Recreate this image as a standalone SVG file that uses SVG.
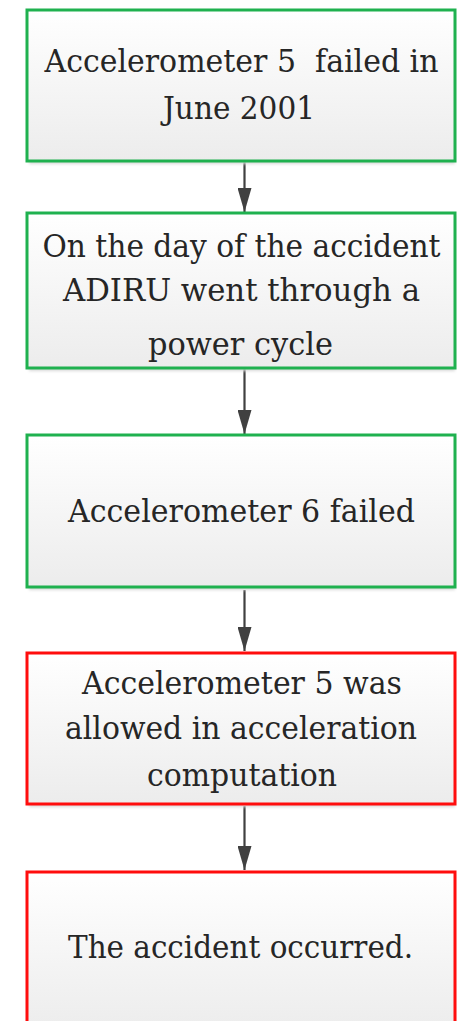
<svg xmlns="http://www.w3.org/2000/svg" width="457" height="1021" viewBox="0 0 457 1021">
<style>
.box{stroke-width:3;fill:url(#g)}
.green{stroke:#1fb14f}
.red{stroke:#ff0d0d}
.shadow{fill:#d8d8d8;filter:url(#blur)}
.t{font-family:'DejaVu Serif','Liberation Serif',serif;font-size:31px;fill:#262626;text-anchor:middle;white-space:pre}
.conn{stroke:#404040;stroke-width:2.2;fill:none;marker-end:url(#arrow)}
</style>
<defs>
<linearGradient id="g" x1="0" y1="0" x2="0" y2="1">
<stop offset="0" stop-color="#ffffff"/>
<stop offset="1" stop-color="#ececec"/>
</linearGradient>
<filter id="blur" x="-5%" y="-5%" width="110%" height="110%"><feGaussianBlur stdDeviation="1.5"/></filter>
<marker id="arrow" markerWidth="24" markerHeight="14" refX="24" refY="7" orient="auto" markerUnits="userSpaceOnUse" viewBox="0 0 24 14">
<path d="M0,0 L24,7 L0,14 Z" fill="#404040"/>
</marker>
</defs>
<rect width="457" height="1021" fill="#ffffff"/>
<g id="connectors">
<line class="conn" x1="244.5" y1="162" x2="244.5" y2="212"/>
<line class="conn" x1="244.5" y1="369" x2="244.5" y2="434"/>
<line class="conn" x1="244.5" y1="590" x2="244.5" y2="651"/>
<line class="conn" x1="244.5" y1="806" x2="244.5" y2="870"/>
</g>
<g id="node1">
<rect class="shadow" x="29" y="13" width="426" height="151"/>
<rect class="box green" x="27" y="10" width="428" height="151"/>
<text class="t" x="241.5" y="72" xml:space="preserve" textLength="394" lengthAdjust="spacingAndGlyphs">Accelerometer 5  failed in</text>
<text class="t" x="239" y="119" textLength="152" lengthAdjust="spacingAndGlyphs">June 2001</text>
</g>
<g id="node2">
<rect class="shadow" x="29" y="216" width="426" height="155"/>
<rect class="box green" x="27" y="213" width="428" height="155"/>
<text class="t" x="241.5" y="257" textLength="398" lengthAdjust="spacingAndGlyphs">On the day of the accident</text>
<text class="t" x="241.5" y="301" textLength="357" lengthAdjust="spacingAndGlyphs">ADIRU went through a</text>
<text class="t" x="240.5" y="355" textLength="185" lengthAdjust="spacingAndGlyphs">power cycle</text>
</g>
<g id="node3">
<rect class="shadow" x="29" y="438" width="426" height="152"/>
<rect class="box green" x="27" y="435" width="428" height="152"/>
<text class="t" x="241.5" y="522" textLength="347" lengthAdjust="spacingAndGlyphs">Accelerometer 6 failed</text>
</g>
<g id="node4">
<rect class="shadow" x="29" y="656" width="426" height="151"/>
<rect class="box red" x="27" y="653" width="428" height="151"/>
<text class="t" x="242" y="694" textLength="320" lengthAdjust="spacingAndGlyphs">Accelerometer 5 was</text>
<text class="t" x="241" y="739" textLength="352" lengthAdjust="spacingAndGlyphs">allowed in acceleration</text>
<text class="t" x="242" y="786" textLength="190" lengthAdjust="spacingAndGlyphs">computation</text>
</g>
<g id="node5">
<rect class="shadow" x="29" y="875" width="426" height="160"/>
<rect class="box red" x="27" y="872" width="428" height="160"/>
<text class="t" x="240.5" y="958" textLength="345" lengthAdjust="spacingAndGlyphs">The accident occurred.</text>
</g>
</svg>
